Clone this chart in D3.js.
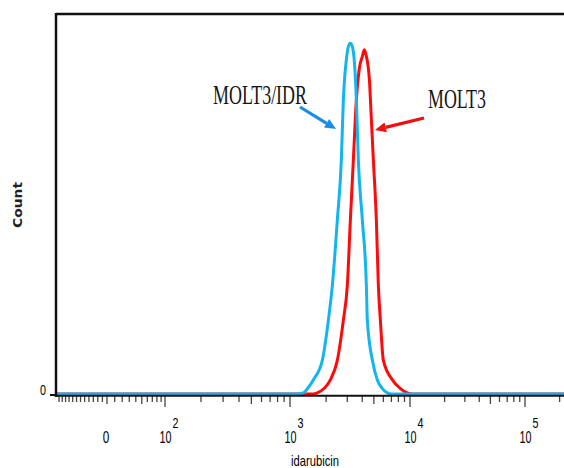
<!DOCTYPE html>
<html>
<head>
<meta charset="utf-8">
<script src="https://cdn.jsdelivr.net/npm/d3@7"></script>
<style>
  body { margin: 0; background: #fff; }
  svg { display: block; }
</style>
</head>
<body>
<svg id="chart" width="564" height="468"></svg>
<script>
// histogram: [idarubicin intensity, count]
var molt3Idr = [
    [-65, 0], [1150, 0], [1290, 1], [1420, 6], [1565, 13], [1860, 31], [2090, 68],
    [2255, 100], [2480, 160], [2680, 216], [2785, 271], [2950, 308], [3065, 320],
    [3185, 323], [3310, 320], [3440, 306], [3575, 271], [3710, 216], [4010, 160],
    [4330, 100], [4410, 68], [4860, 31], [5345, 13], [5885, 5], [6480, 1], [7000, 0], [1e6, 0]
];
var molt3 = [
    [-65, 0], [1550, 0], [1690, 1], [2170, 13], [2480, 31], [2785, 68], [3005, 100],
    [3185, 160], [3375, 216], [3575, 271], [3785, 300], [4010, 311], [4165, 317],
    [4330, 311], [4500, 300], [4585, 290], [4765, 253], [4950, 216], [5245, 160],
    [5450, 100], [5665, 68], [6000, 31], [7130, 13], [8315, 5], [9510, 1], [10500, 0], [1e6, 0]
];

// biexponential x axis
var xAnchors = [-65, 0, 1e2, 1e3, 1e4, 1e5, 1e6];
var majorTicks = [1e2, 1e3, 1e4, 1e5];
var majorExp = ["2", "3", "4", "5"];
var negTicks = d3.range(-60, 0, 5);
var yMax = 350;

(function () {
    var svg = d3.select("#chart");

    // plot frame
    var plotLeft = 56, plotTop = 14, plotBottom = 394;

    var T = function (v) {
        return Math.asinh(v / 55);
    };
    var xs = d3.scaleLinear()
        .domain(xAnchors.map(T))
        .range([56, 107, 165, 290, 410, 525, 640]);
    var x = function (v) {
        return xs(T(v));
    };
    var y = d3.scaleLinear().domain([0, yMax]).range([plotBottom, plotTop]);

    svg.append("clipPath").attr("id", "plot-clip")
        .append("rect")
        .attr("x", plotLeft).attr("y", 0)
        .attr("width", 564 - plotLeft).attr("height", 397);

    // ticks on the x axis
    var tickList = [];
    negTicks.forEach(function (v) {
        tickList.push({v: v, len: 6});
    });
    tickList.push({v: 0, len: 8});
    for (var d = 1; d <= 5; d++) {
        for (var m = 1; m <= 9; m++) {
            var len = 6;
            if (m === 1 && d >= 2) len = 11;
            else if (m === 5) len = 8;
            tickList.push({v: m * Math.pow(10, d), len: len});
        }
    }

    svg.append("g").selectAll("line.tick")
        .data(tickList.filter(function (t) { return x(t.v) >= plotLeft + 3 && x(t.v) < 564; }))
        .enter().append("line")
        .attr("class", "tick")
        .attr("x1", function (t) { return x(t.v); })
        .attr("x2", function (t) { return x(t.v); })
        .attr("y1", 396)
        .attr("y2", function (t) { return 396 + t.len; })
        .attr("stroke", "#444")
        .attr("stroke-width", 1.3);

    // curves
    var line = d3.line()
        .x(function (p) { return x(p[0]); })
        .y(function (p) { return y(p[1]); })
        .curve(d3.curveMonotoneX);

    var curveG = svg.append("g").attr("clip-path", "url(#plot-clip)");
    curveG.append("path")
        .datum(molt3)
        .attr("d", line)
        .attr("fill", "none")
        .attr("stroke", "#ff0a0a")
        .attr("stroke-width", 3);
    curveG.append("path")
        .datum(molt3Idr)
        .attr("d", line)
        .attr("fill", "none")
        .attr("stroke", "#14b4f0")
        .attr("stroke-width", 3);

    // axis lines
    svg.append("path")
        .attr("d", "M" + plotLeft + "," + plotTop + "H564")
        .attr("stroke", "#111").attr("stroke-width", 2.5).attr("fill", "none");
    svg.append("path")
        .attr("d", "M" + plotLeft + "," + (plotTop - 1) + "V397")
        .attr("stroke", "#111").attr("stroke-width", 2.5).attr("fill", "none");
    svg.append("path")
        .attr("d", "M" + plotLeft + ",395.8H564")
        .attr("stroke", "#111").attr("stroke-width", 2).attr("fill", "none");
    svg.append("path")
        .attr("d", "M50," + (y(0) + 1) + "H" + plotLeft)
        .attr("stroke", "#111").attr("stroke-width", 2).attr("fill", "none");

    var sans = "'Liberation Sans', Arial, sans-serif";

    // y axis
    svg.append("text")
        .attr("x", 43).attr("y", 395)
        .attr("text-anchor", "middle")
        .attr("font-family", sans).attr("font-size", 15)
        .attr("textLength", 6).attr("lengthAdjust", "spacingAndGlyphs")
        .text("0");
    svg.append("text")
        .attr("transform", "translate(22,205) rotate(-90)")
        .attr("text-anchor", "middle")
        .attr("font-family", "'DejaVu Sans', sans-serif").attr("font-weight", "bold")
        .attr("font-size", 12)
        .attr("textLength", 46).attr("lengthAdjust", "spacingAndGlyphs")
        .attr("fill", "#222")
        .text("Count");

    // x tick labels
    svg.append("text")
        .attr("x", x(0) - 1).attr("y", 443)
        .attr("text-anchor", "middle")
        .attr("font-family", sans).attr("font-size", 16)
        .attr("textLength", 6.5).attr("lengthAdjust", "spacingAndGlyphs")
        .text("0");
    majorTicks.forEach(function (v, i) {
        svg.append("text")
            .attr("x", x(v) - 5.5).attr("y", 443)
            .attr("font-family", sans).attr("font-size", 16)
            .attr("textLength", 12).attr("lengthAdjust", "spacingAndGlyphs")
            .text("10");
        svg.append("text")
            .attr("x", x(v) + 7.5).attr("y", 428)
            .attr("font-family", sans).attr("font-size", 14)
            .attr("textLength", 6).attr("lengthAdjust", "spacingAndGlyphs")
            .text(majorExp[i]);
    });
    svg.append("text")
        .attr("x", 315).attr("y", 466)
        .attr("text-anchor", "middle")
        .attr("font-family", sans).attr("font-size", 15)
        .attr("textLength", 48).attr("lengthAdjust", "spacingAndGlyphs")
        .text("idarubicin");

    // annotations
    var serif = "'Liberation Serif', 'Times New Roman', serif";
    svg.append("text")
        .attr("x", 213).attr("y", 104)
        .attr("font-family", serif).attr("font-size", 28)
        .attr("textLength", 94).attr("lengthAdjust", "spacingAndGlyphs")
        .attr("fill", "#151515")
        .text("MOLT3/IDR");
    svg.append("text")
        .attr("x", 428).attr("y", 108)
        .attr("font-family", serif).attr("font-size", 28)
        .attr("textLength", 58).attr("lengthAdjust", "spacingAndGlyphs")
        .attr("fill", "#151515")
        .text("MOLT3");

    function arrow(x1, y1, x2, y2, color) {
        var a = Math.atan2(y2 - y1, x2 - x1);
        var hl = 11, hw = 5;
        var bx = x2 - hl * Math.cos(a), by = y2 - hl * Math.sin(a);
        svg.append("line")
            .attr("x1", x1).attr("y1", y1).attr("x2", bx).attr("y2", by)
            .attr("stroke", color).attr("stroke-width", 3.2);
        svg.append("path")
            .attr("d", "M" + x2 + "," + y2 +
                "L" + (bx + hw * Math.sin(a)) + "," + (by - hw * Math.cos(a)) +
                "L" + (bx - hw * Math.sin(a)) + "," + (by + hw * Math.cos(a)) + "Z")
            .attr("fill", color);
    }
    arrow(300, 107, 336, 129, "#1a8ce6");
    arrow(424, 118, 375, 130, "#f01010");
})();
</script>
</body>
</html>
